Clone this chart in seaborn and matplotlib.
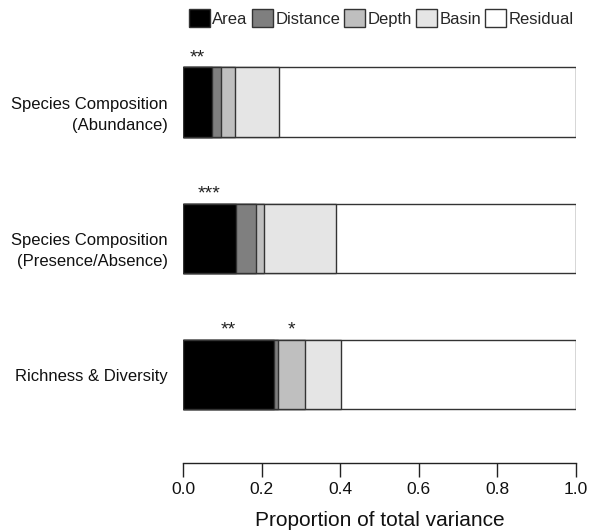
import pandas as pd
import matplotlib.pyplot as plt
import matplotlib.patches as mpatches
import matplotlib.transforms as mtransforms
import seaborn as sns

sns.set_theme(style="white")
plt.rcParams["font.family"] = ["Liberation Sans", "DejaVu Sans"]

# Dados (proporcao da variancia total)
categorias = ["Species Composition\n(Abundance)",
              "Species Composition\n(Presence/Absence)",
              "Richness & Diversity"]
area = [0.073, 0.134, 0.232]
distance = [0.024, 0.051, 0.010]
depth = [0.036, 0.022, 0.069]
basin = [0.112, 0.182, 0.091]
residual = [0.755, 0.611, 0.598]
sig_area = ["**", "***", "**"]
sig_depth = ["", "", "*"]

componentes = ["Area", "Distance", "Depth", "Basin", "Residual"]
cores = ["#000000", "#7f7f7f", "#bfbfbf", "#e5e5e5", "#ffffff"]

df = pd.DataFrame({"cat": categorias, "Area": area, "Distance": distance,
                   "Depth": depth, "Basin": basin, "Residual": residual})
# acumulado para empilhar
acum = df[componentes].cumsum(axis=1)
acum["cat"] = df["cat"]

fig = plt.figure(figsize=(5.99, 5.32), dpi=100)
ax = fig.add_axes([183 / 599, (532 - 463) / 532, 393 / 599, 429 / 532])

# desenhar do maior acumulado para o menor
for comp, cor in reversed(list(zip(componentes, cores))):
    sns.barplot(data=acum, x=comp, y="cat", orient="h", color=cor,
                edgecolor="#333333", linewidth=1, width=0.51,
                saturation=1, ax=ax)

# asteriscos de significancia
for i in range(len(categorias)):
    if sig_area[i]:
        ax.text(area[i] / 2, i - 0.265, sig_area[i], ha="center", va="bottom",
                fontsize=14, color="#222222")
    if sig_depth[i]:
        x0 = area[i] + distance[i]
        ax.text(x0 + depth[i] / 2, i - 0.265, sig_depth[i], ha="center",
                va="bottom", fontsize=14, color="#222222")

ax.set_xlim(0, 1)
ax.set_ylim(2.65, -0.5)
ax.set_xticks([0, 0.2, 0.4, 0.6, 0.8, 1.0])
ax.set_xticklabels(["0.0", "0.2", "0.4", "0.6", "0.8", "1.0"])
ax.set_xlabel("Proportion of total variance", fontsize=15, color="#111111")
ax.xaxis.set_label_coords(0.5, -0.112)
ax.set_ylabel("")
for s in ["top", "right", "left"]:
    ax.spines[s].set_visible(False)
ax.spines["bottom"].set_bounds(0, 1)
ax.spines["bottom"].set_color("#222222")
ax.spines["bottom"].set_linewidth(1)
ax.tick_params(axis="x", bottom=True, length=10, width=1, color="#222222",
               labelsize=12.5, pad=4, labelcolor="#111111")
ax.tick_params(axis="y", left=False, length=0, labelsize=12, pad=11,
               labelcolor="#111111")

# primeira linha do rotulo alinhada ao centro da barra
desloc = mtransforms.ScaledTranslation(0, 4 / 72, fig.dpi_scale_trans)
for lab in ax.get_yticklabels():
    lab.set_verticalalignment("top")
    lab.set_linespacing(1.55)
    lab.set_transform(lab.get_transform() + desloc)

handles = [mpatches.Patch(facecolor=c, edgecolor="#333333", linewidth=1, label=n)
           for n, c in zip(componentes, cores)]
fig.legend(handles=handles, loc="center right", bbox_to_anchor=(0.983, 0.966),
           ncol=5, frameon=False, fontsize=12, handlelength=1.25,
           handleheight=1.25, handletextpad=0.15, columnspacing=0.25)

plt.savefig("out.png", dpi=100)
plt.close()
